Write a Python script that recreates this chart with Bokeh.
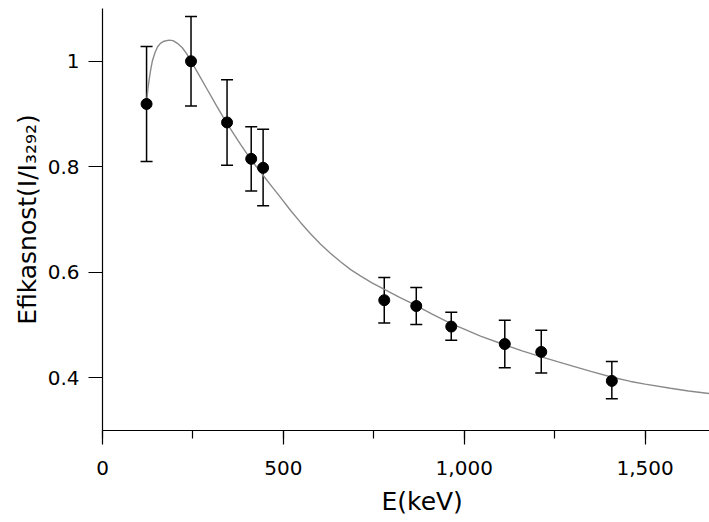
from bokeh.plotting import figure
from bokeh.models import (ColumnDataSource, Whisker, TeeHead, Title, Range1d,
                          SingleIntervalTicker, FixedTicker, NumeralTickFormatter)
from bokeh.embed import file_html
from bokeh.resources import INLINE

# measured points
energy = [121.8, 244.7, 344.3, 411.1, 444.0, 778.9, 867.4, 964.1, 1112.1, 1212.9, 1408.0]
eff = [0.919, 1.000, 0.884, 0.815, 0.798, 0.547, 0.536, 0.497, 0.464, 0.449, 0.394]
eff_hi = [1.028, 1.085, 0.965, 0.876, 0.871, 0.590, 0.571, 0.524, 0.509, 0.490, 0.431]
eff_lo = [0.810, 0.915, 0.803, 0.754, 0.726, 0.504, 0.501, 0.471, 0.419, 0.409, 0.360]

# fitted curve
fit_e = [121.8, 125, 129, 133, 138, 145, 152, 160, 170, 184, 195, 207, 220, 232, 244,
         265, 290, 315, 343, 382, 410, 428, 446, 470, 492, 520, 548, 575, 603, 630,
         658, 686, 713, 745, 778, 820, 861, 910, 962, 1000, 1045, 1109, 1160, 1211,
         1260, 1300, 1350, 1409, 1460, 1500, 1570, 1620, 1678]
fit_v = [0.919, 0.945, 0.965, 0.983, 1.001, 1.016, 1.027, 1.034, 1.038, 1.040, 1.039,
         1.034, 1.026, 1.015, 1.001, 0.976, 0.946, 0.916, 0.883, 0.842, 0.814, 0.798,
         0.782, 0.761, 0.742, 0.717, 0.694, 0.673, 0.653, 0.636, 0.620, 0.605, 0.593,
         0.580, 0.568, 0.553, 0.539, 0.521, 0.503, 0.492, 0.479, 0.463, 0.451, 0.440,
         0.430, 0.422, 0.412, 0.401, 0.393, 0.388, 0.380, 0.375, 0.370]

y_ticks = [0.4, 0.6, 0.8, 1.0]

FONT = "DejaVu Sans"

p = figure(width=709, height=522, output_backend="svg", toolbar_location=None,
           x_range=Range1d(0, 1678), y_range=Range1d(0.3, 1.1),
           min_border_left=102, min_border_right=0, min_border_top=8,
           min_border_bottom=91)
p.outline_line_color = None
p.grid.visible = False
p.background_fill_color = "white"
p.border_fill_color = "white"

p.line(fit_e, fit_v, line_color="#8a8a8a", line_width=1.4)

src = ColumnDataSource(dict(x=energy, y=eff, hi=eff_hi, lo=eff_lo))
w = Whisker(source=src, base="x", upper="hi", lower="lo", line_color="black",
            line_width=1.5,
            upper_head=TeeHead(size=12, line_color="black", line_width=1.5),
            lower_head=TeeHead(size=12, line_color="black", line_width=1.5))
p.add_layout(w)
p.scatter("x", "y", source=src, size=11, fill_color="black", line_color="black")

xa = p.xaxis[0]
xa.ticker = SingleIntervalTicker(interval=500, num_minor_ticks=2)
xa.formatter = NumeralTickFormatter(format="0,0")
ya = p.yaxis[0]
ya.ticker = FixedTicker(ticks=y_ticks)
ya.formatter = NumeralTickFormatter(format="0.[0]")

for ax in (xa, ya):
    ax.axis_line_color = "black"
    ax.axis_line_width = 1.2
    ax.major_tick_line_color = "black"
    ax.major_tick_line_width = 1.2
    ax.minor_tick_line_color = "black"
    ax.minor_tick_line_width = 1.2
    ax.major_tick_out = 14
    ax.major_tick_in = 0
    ax.minor_tick_out = 8
    ax.minor_tick_in = 0
    ax.major_label_text_font = FONT
    ax.major_label_text_font_size = "20px"
    ax.major_label_text_color = "black"
    ax.axis_label_text_font = FONT
    ax.axis_label_text_font_style = "normal"
    ax.axis_label_text_color = "black"

ya.minor_tick_out = 0
xa.major_label_standoff = 16
ya.major_label_standoff = 9
ya.axis_label = "Efikasnost(I/I\u2083\u2082\u2089\u2082)"
ya.axis_label_text_font_size = "25px"
ya.axis_label_standoff = 3

xt = Title(text="E(keV)", align="left", offset=279, text_font=FONT,
           text_font_size="25px", text_font_style="normal", text_color="black",
           standoff=14)
p.add_layout(xt, "below")

open("out.html", "w").write(file_html(p, INLINE))
